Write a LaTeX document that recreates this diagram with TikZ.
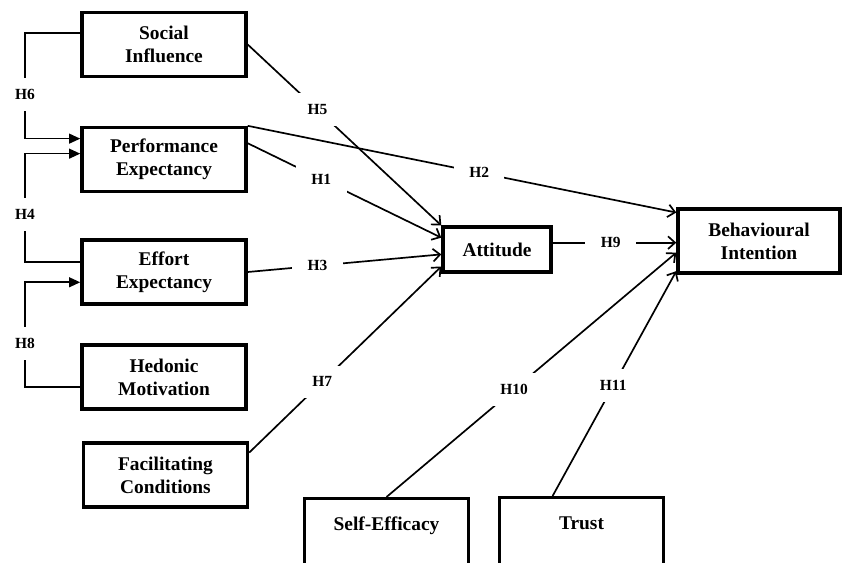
\documentclass[tikz,border=0pt]{standalone}
\usepackage{fontspec}
\setmainfont{Liberation Serif}
\usetikzlibrary{arrows.meta}

\begin{document}
\begin{tikzpicture}[x=0.025cm, y=-0.025cm,
  box/.style={draw, line width=2.4pt, minimum width=4.1cm, minimum height=1.6cm,
    align=center, font=\fontsize{13.8}{16.5}\selectfont\bfseries},
  lab/.style={fill=white, inner xsep=11pt, inner ysep=8pt,
    font=\fontsize{11}{13}\selectfont\bfseries},
  arr/.style={line width=1.2pt, -{Straight Barb[length=5pt,width=9pt]}},
  barr/.style={line width=1.2pt, -{Triangle[length=8pt,width=7pt]}}]
  \useasboundingbox (0,0) rectangle (843,562);

  % left column of constructs
  \node[box] (si) at (164, 44.5) {Social\\Influence};
  \node[box] (pe) at (164, 159.5) {Performance\\Expectancy};
  \node[box] (ee) at (164, 272) {Effort\\Expectancy};
  \node[box] (hm) at (164, 377) {Hedonic\\Motivation};
  \node[box] (fc) at (165.5, 475) {Facilitating\\Conditions};
  % middle and right
  \node[box, minimum width=2.7cm, minimum height=1.12cm] (att) at (497, 249.5) {Attitude};
  \node[box, minimum width=4.05cm] (bi) at (759, 241) {Behavioural\\Intention};
  % bottom boxes run off the page
  \node[box, anchor=north, minimum height=1.7cm, text depth=0.45cm] (se) at (386.5, 497) {Self-Efficacy};
  \node[box, anchor=north, minimum height=1.7cm, text depth=0.45cm] (tr) at (581.5, 496) {Trust};

  % x of the bracket lines on the left
  \coordinate (lx) at (25, 0);

  % paths to Attitude
  \draw[arr] (si.east) -- node[lab, pos=0.36] (h5) {H5} (att.north west);
  \draw[arr] (pe.11) -- node[lab, pos=0.38] (h1) {H1} (att.168);
  \draw[arr] (ee.east) -- node[lab, pos=0.36] (h3) {H3} (att.185);
  \draw[arr] (fc.15) -- node[lab, pos=0.38] (h7) {H7} (att.197);

  % paths to Behavioural Intention
  \draw[arr] (pe.north east) -- node[lab, pos=0.54] (h2) {H2} (bi.161);
  \draw[arr] (att.7) -- node[lab, pos=0.47] (h9) {H9} (att.7 -| bi.west);
  \draw[arr] (se.north) -- node[lab, pos=0.44] (h10) {H10} (bi.188);
  \draw[arr] (tr.129) -- node[lab, pos=0.49] (h11) {H11} (bi.200);

  % brackets between the left boxes
  \draw[barr] (si.172) -- (si.172 -| lx) -- node[lab, pos=0.58] (h6) {H6} (pe.166 -| lx) -- (pe.166);
  \draw[barr] (ee.173) -- (ee.173 -| lx) -- node[lab, pos=0.44] (h4) {H4} (pe.176 -| lx) -- (pe.176);
  \draw[barr] (hm.187) -- (hm.187 -| lx) -- node[lab, pos=0.42] (h8) {H8} (ee.187 -| lx) -- (ee.187);
\end{tikzpicture}
\end{document}
